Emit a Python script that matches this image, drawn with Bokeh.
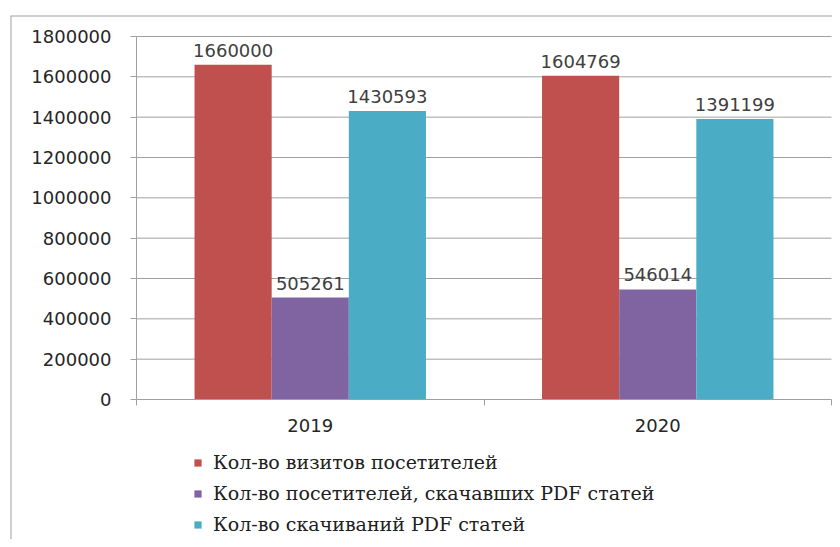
from bokeh.plotting import figure
from bokeh.models import FixedTicker, Legend, LegendItem, ColumnDataSource, LinearAxis, Span
from bokeh.core.properties import value
from bokeh.embed import file_html
from bokeh.resources import INLINE

years = ["2019", "2020"]
series_names = [
    "Кол-во визитов посетителей",
    "Кол-во посетителей, скачавших PDF статей",
    "Кол-во скачиваний PDF статей",
]
visits = [1660000, 1604769]
visitors_pdf = [505261, 546014]
pdf_downloads = [1430593, 1391199]
y_ticks = [0, 200000, 400000, 600000, 800000, 1000000, 1200000, 1400000, 1600000, 1800000]
colors = ["#C0504D", "#8064A2", "#4BACC6"]

series = [visits, visitors_pdf, pdf_downloads]
n = len(years)
y_max = y_ticks[-1]
bar_w = 0.222
offsets = [-bar_w, 0.0, bar_w]

# layout: whole chart lives in one frame (frame = outer chart box)
W, H = 832, 539
left_pad, top_pad = 10, 15
frame_w, frame_h = W - left_pad, H - top_pad
plot_left, plot_right = 126, 821          # px within frame
plot_top, plot_bottom = 21, 384           # px within frame
xs = (plot_right - plot_left) / n
ys = (plot_bottom - plot_top) / y_max
x_start = -plot_left / xs
x_end = n + (frame_w - plot_right) / xs
y_end = y_max + plot_top / ys
y_start = -(frame_h - plot_bottom) / ys

p = figure(width=W, height=H, x_range=(x_start, x_end), y_range=(y_start, y_end),
           output_backend="svg", toolbar_location=None,
           min_border_left=left_pad, min_border_right=0, min_border_top=top_pad, min_border_bottom=0,
           x_axis_location=None, y_axis_location=None)
p.outline_line_color = None
p.background_fill_color = "white"
p.border_fill_color = "white"
p.xgrid.visible = False
p.ygrid.visible = False

grid_col = "#a0a0a0"
font = "DejaVu Sans"
fs = "18px"

# outer chart border (top & left)
p.add_layout(Span(location=y_end, dimension="width", line_color=grid_col, line_width=2))
p.add_layout(Span(location=x_start, dimension="height", line_color=grid_col, line_width=2))

# gridlines
gy = y_ticks[1:]
p.segment(x0=[0] * len(gy), x1=[n] * len(gy), y0=gy, y1=gy, line_color=grid_col, line_width=1)

renderers = []
for i, (vals, col) in enumerate(zip(series, colors)):
    src = ColumnDataSource(dict(
        x=[k + 0.5 + offsets[i] for k in range(n)],
        top=vals,
        label=[str(v) for v in vals],
    ))
    r = p.vbar(x="x", top="top", width=bar_w, source=src, fill_color=col, line_color=None)
    renderers.append(r)
    p.text(x="x", y="top", text="label", source=src, text_align="center", text_baseline="bottom",
           y_offset=-8, text_font=value(font), text_font_size=fs, text_color="#404040")

# y axis at x=0
yax = LinearAxis(fixed_location=0, bounds=(0, y_max), ticker=FixedTicker(ticks=y_ticks))
yax.major_label_overrides = {t: str(t) for t in y_ticks}
yax.major_label_text_font = font
yax.major_label_text_font_size = fs
yax.major_label_text_color = "#262626"
yax.axis_line_color = grid_col
yax.major_tick_line_color = grid_col
yax.major_tick_out = 6
yax.major_tick_in = 0
yax.minor_tick_line_color = None
yax.major_label_standoff = 19
p.add_layout(yax, "left")

# x axis at y=0: labels at centers, ticks at boundaries
xax = LinearAxis(fixed_location=0, bounds=(0, n),
                 ticker=FixedTicker(ticks=[k + 0.5 for k in range(n)], minor_ticks=list(range(n + 1))))
xax.major_label_overrides = {k + 0.5: y for k, y in enumerate(years)}
xax.major_label_text_font = font
xax.major_label_text_font_size = fs
xax.major_label_text_color = "#262626"
xax.axis_line_color = grid_col
xax.major_tick_line_color = None
xax.minor_tick_line_color = grid_col
xax.minor_tick_out = 6
xax.minor_tick_in = 0
xax.major_label_standoff = 13
p.add_layout(xax, "below")

legend = Legend(items=[LegendItem(label=nm, renderers=[r]) for nm, r in zip(series_names, renderers)],
                location=(183, 4), orientation="vertical",
                padding=0, margin=0, spacing=9, glyph_width=9, glyph_height=9,
                label_height=22, label_standoff=11,
                label_text_font="DejaVu Serif", label_text_font_size="19px",
                label_text_color="#202020", border_line_color=None,
                background_fill_alpha=0)
p.add_layout(legend, "center")

open("out.html", "w").write(file_html(p, INLINE))
